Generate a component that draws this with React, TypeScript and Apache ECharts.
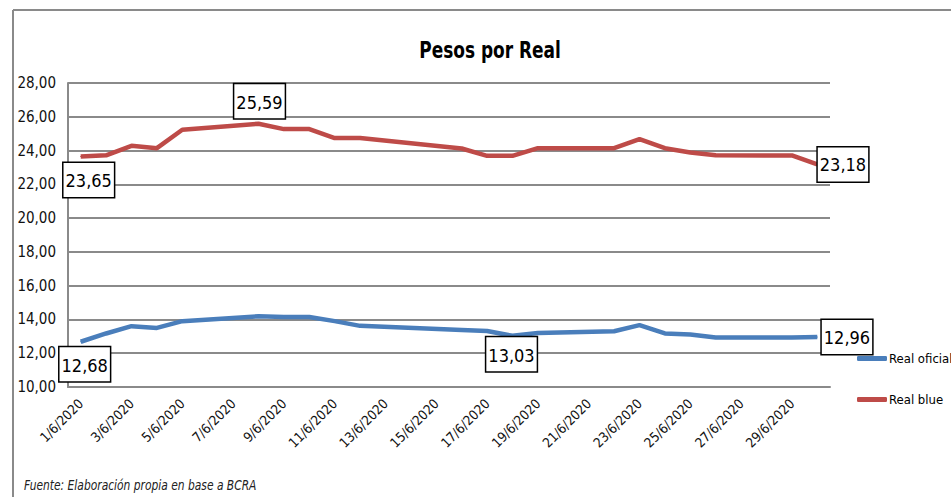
import React, { useEffect, useRef } from "react";
import * as echarts from "echarts";

const categories: string[] = [
  "1/6/2020", "2/6/2020", "3/6/2020", "4/6/2020", "5/6/2020", "6/6/2020",
  "7/6/2020", "8/6/2020", "9/6/2020", "10/6/2020", "11/6/2020", "12/6/2020",
  "13/6/2020", "14/6/2020", "15/6/2020", "16/6/2020", "17/6/2020", "18/6/2020",
  "19/6/2020", "20/6/2020", "21/6/2020", "22/6/2020", "23/6/2020", "24/6/2020",
  "25/6/2020", "26/6/2020", "27/6/2020", "28/6/2020", "29/6/2020", "30/6/2020",
];

const realOficial: (number | null)[] = [
  12.68, 13.17, 13.6, 13.5, 13.9, null, null, 14.19, 14.15, 14.15, 13.9, 13.62,
  null, null, null, 13.38, 13.32, 13.03, 13.2, null, null, 13.3, 13.66, 13.17,
  13.11, 12.93, null, null, 12.93, 12.96,
];

const realBlue: (number | null)[] = [
  23.65, 23.72, 24.28, 24.14, 25.23, null, null, 25.59, 25.27, 25.27, 24.74, 24.74,
  null, null, null, 24.12, 23.69, 23.69, 24.14, null, null, 24.14, 24.68, 24.14,
  23.89, 23.72, null, null, 23.71, 23.18,
];

const seriesNames = ["Real oficial", "Real blue"];
const titleText = "Pesos por Real";
const sourceText = "Fuente: Elaboración propia en base a BCRA";

const NARROW = "'DejaVu Sans Condensed', 'Liberation Sans Narrow', 'Arial Narrow', sans-serif";

const fmt = (v: number) => v.toFixed(2).replace(".", ",");

const boxLabel = (position: string, offset: number[], distance: number) => ({
  show: true,
  position,
  offset,
  distance,
  formatter: (p: any) => fmt(p.value),
  fontFamily: NARROW,
  fontSize: 18,
  color: "#000",
  backgroundColor: "#fff",
  borderColor: "#000",
  borderWidth: 1.5,
  padding: [9, 2, 7, 2],
});

const oficialLabels: Record<number, any> = {
  0: boxLabel("bottom", [4, 0], 5),
  17: boxLabel("bottom", [-1, 0], 1),
  29: boxLabel("right", [0, 0], 4),
};
const blueLabels: Record<number, any> = {
  0: boxLabel("bottom", [8, 0], 6),
  7: boxLabel("top", [1, 0], 5),
  29: boxLabel("right", [0, 0], 0),
};

const buildData = (vals: (number | null)[], labels: Record<number, any>) =>
  vals.map((v, i) => (labels[i] && v !== null ? { value: v, label: labels[i] } : v));

export default function App() {
  const ref = useRef<HTMLDivElement>(null);
  useEffect(() => {
    if (!ref.current) return;
    const chart = echarts.init(ref.current, null, { renderer: "svg" });
    chart.setOption({
      animation: false,
      backgroundColor: "#fff",
      grid: { left: 68, right: 121, top: 83, bottom: 110, containLabel: false },
      graphic: [
        {
          type: "line",
          shape: { x1: 13, y1: 10, x2: 951, y2: 10 },
          style: { stroke: "#8a8a8a", lineWidth: 2 },
        },
        {
          type: "line",
          shape: { x1: 13, y1: 10, x2: 13, y2: 497 },
          style: { stroke: "#8a8a8a", lineWidth: 2 },
        },
        {
          type: "text",
          x: 490,
          y: 50,
          scaleX: 0.82,
          style: {
            text: titleText,
            fontFamily: NARROW,
            fontWeight: "bold",
            fontSize: 23,
            fill: "#000",
            textAlign: "center",
            textVerticalAlign: "middle",
          },
        },
        {
          type: "text",
          x: 24,
          y: 485,
          scaleX: 0.85,
          style: {
            text: sourceText,
            fontFamily: NARROW,
            fontStyle: "italic",
            fontSize: 14,
            fill: "#222",
            textAlign: "left",
            textVerticalAlign: "middle",
          },
        },
      ],
      legend: {
        data: seriesNames,
        orient: "vertical",
        left: 852,
        top: 347,
        itemWidth: 30,
        itemHeight: 5,
        itemGap: 28,
        icon: "roundRect",
        textStyle: { fontFamily: NARROW, fontSize: 13, color: "#000", padding: [0, 0, 0, -3] },
      },
      xAxis: {
        type: "category",
        data: categories,
        boundaryGap: true,
        axisLine: { lineStyle: { color: "#8a8a8a", width: 2 } },
        axisTick: { show: false },
        axisLabel: {
          interval: 1,
          rotate: 45,
          fontFamily: NARROW,
          fontSize: 13.5,
          color: "#111",
          margin: 14,
        },
      },
      yAxis: {
        type: "value",
        min: 10,
        max: 28,
        interval: 2,
        axisLine: { show: true, lineStyle: { color: "#8a8a8a", width: 2 } },
        axisTick: { show: false },
        splitLine: { lineStyle: { color: "#8a8a8a", width: 2 } },
        axisLabel: {
          formatter: (v: number) => fmt(v),
          fontFamily: NARROW,
          fontSize: 15,
          color: "#111",
          margin: 12,
        },
      },
      series: [
        {
          name: seriesNames[0],
          type: "line",
          data: buildData(realOficial, oficialLabels),
          connectNulls: true,
          showSymbol: true,
          symbol: "circle",
          symbolSize: 1,
          label: { show: false },
          lineStyle: { color: "#4a7ebb", width: 4.5 },
          itemStyle: { color: "#4a7ebb" },
          z: 3,
        },
        {
          name: seriesNames[1],
          type: "line",
          data: buildData(realBlue, blueLabels),
          connectNulls: true,
          showSymbol: true,
          symbol: "circle",
          symbolSize: 1,
          label: { show: false },
          lineStyle: { color: "#be4b48", width: 4.5 },
          itemStyle: { color: "#be4b48" },
          z: 3,
        },
      ],
    });
    return () => chart.dispose();
  }, []);
  return (
    <div
      ref={ref}
      style={{ position: "fixed", left: 0, top: 0, width: 951, height: 497, background: "#fff" }}
    />
  );
}
